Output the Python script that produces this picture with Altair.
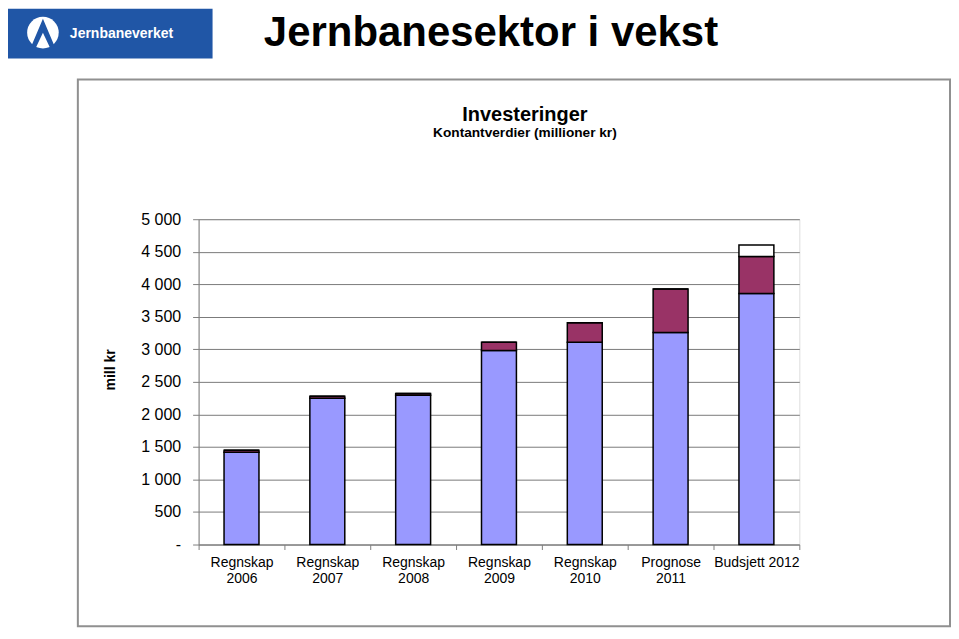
import altair as alt
import pandas as pd

categories = ["Regnskap 2006", "Regnskap 2007", "Regnskap 2008", "Regnskap 2009",
              "Regnskap 2010", "Prognose 2011", "Budsjett 2012"]
series_names = ["A", "B", "C"]
series_a = [1418, 2248, 2293, 2982, 3108, 3257, 3857]   # blue
series_b = [32, 30, 30, 126, 302, 671, 569]             # maroon
series_c = [0, 0, 0, 0, 0, 0, 179]                      # white
colors = ["#9999FF", "#993366", "#FFFFFF"]
y_ticks = list(range(0, 5001, 500))

rows = []
for i, c in enumerate(categories):
    for k, (name, vals) in enumerate(zip(series_names, [series_a, series_b, series_c])):
        rows.append({"cat": c, "series": name, "order": k, "value": vals[i]})
df = pd.DataFrame(rows)

FONT = "Liberation Sans"
W, H = 602, 326
PAD = {"left": 191, "top": 211, "right": 152, "bottom": 83}

bars = alt.Chart(df).mark_bar(stroke="black", strokeWidth=1.5, size=35).encode(
    x=alt.X("cat:N", sort=categories, title=None,
            scale=alt.Scale(paddingInner=0, paddingOuter=0),
            axis=alt.Axis(labelAngle=0, tickBand="extent", tickSize=5, tickColor="#808080",
                          domainColor="#808080", labelFontSize=14, labelColor="black",
                          labelPadding=6, labelLineHeight=16, grid=False,
                          labelExpr="datum.label == 'Budsjett 2012' ? datum.label : split(datum.label, ' ')")),
    y=alt.Y("value:Q", stack="zero", title=None,
            scale=alt.Scale(domain=[0, 5000], nice=False),
            axis=alt.Axis(values=y_ticks, tickSize=6, tickColor="#808080", domainColor="#808080",
                          gridColor="#7A7A7A", gridWidth=1, gridOpacity=1,
                          labelFontSize=16, labelColor="black", labelPadding=12,
                          labelExpr="datum.value == 0 ? '-' : replace(format(datum.value, ','), ',', ' ')")),
    color=alt.Color("series:N", scale=alt.Scale(domain=series_names, range=colors), legend=None),
    order=alt.Order("order:Q"),
)

one = pd.DataFrame({"a": [0]})
base = alt.Chart(one)

box = base.mark_rect(fill=None, stroke="#909090", strokeWidth=2).encode(
    x=alt.value(-121), x2=alt.value(753), y=alt.value(-140), y2=alt.value(408))

logo_rect = base.mark_rect(fill="#2056A6").encode(
    x=alt.value(-191), x2=alt.value(14), y=alt.value(-211), y2=alt.value(-161))
logo_circle = base.mark_point(filled=True, color="white", opacity=1, shape="circle", size=1000).encode(
    x=alt.value(-156), y=alt.value(-187))
logo_a = base.mark_point(filled=True, color="#2056A6", opacity=1, size=900,
                         shape="M0,-1 L0.8,0.9 L0.45,0.9 L0,-0.05 L-0.45,0.9 L-0.8,0.9 Z").encode(
    x=alt.value(-156), y=alt.value(-186))
logo_text = base.mark_text(text="Jernbaneverket", font=FONT, fontSize=14, fontWeight="bold",
                           color="white", align="left", baseline="alphabetic").encode(
    x=alt.value(-129), y=alt.value(-182))

header = base.mark_text(text="Jernbanesektor i vekst", font=FONT, fontSize=42, fontWeight="bold",
                        color="black", align="center", baseline="alphabetic").encode(
    x=alt.value(293), y=alt.value(-174))

title1 = base.mark_text(text="Investeringer", font=FONT, fontSize=20, fontWeight="bold",
                        color="black", align="center", baseline="alphabetic").encode(
    x=alt.value(327), y=alt.value(-98))
title2 = base.mark_text(text="Kontantverdier (millioner kr)", font=FONT, fontSize=13.7, fontWeight="bold",
                        color="black", align="center", baseline="alphabetic").encode(
    x=alt.value(327), y=alt.value(-82))
ylab = base.mark_text(text="mill kr", font=FONT, fontSize=14, fontWeight="bold", angle=270,
                      color="black", align="center", baseline="middle").encode(
    x=alt.value(-88), y=alt.value(151))

chart = alt.layer(box, bars, logo_rect, logo_circle, logo_a, logo_text, header, title1, title2, ylab).properties(
    width=W, height=H,
    autosize=alt.AutoSizeParams(type="none"),
    padding=PAD,
).configure_view(fill="#C6C6C6", stroke="#808080", strokeWidth=1.5
).configure_axis(labelFont=FONT, titleFont=FONT
).configure(background="white")

chart.save("out.html", embed_options={"renderer": "svg", "actions": False})
